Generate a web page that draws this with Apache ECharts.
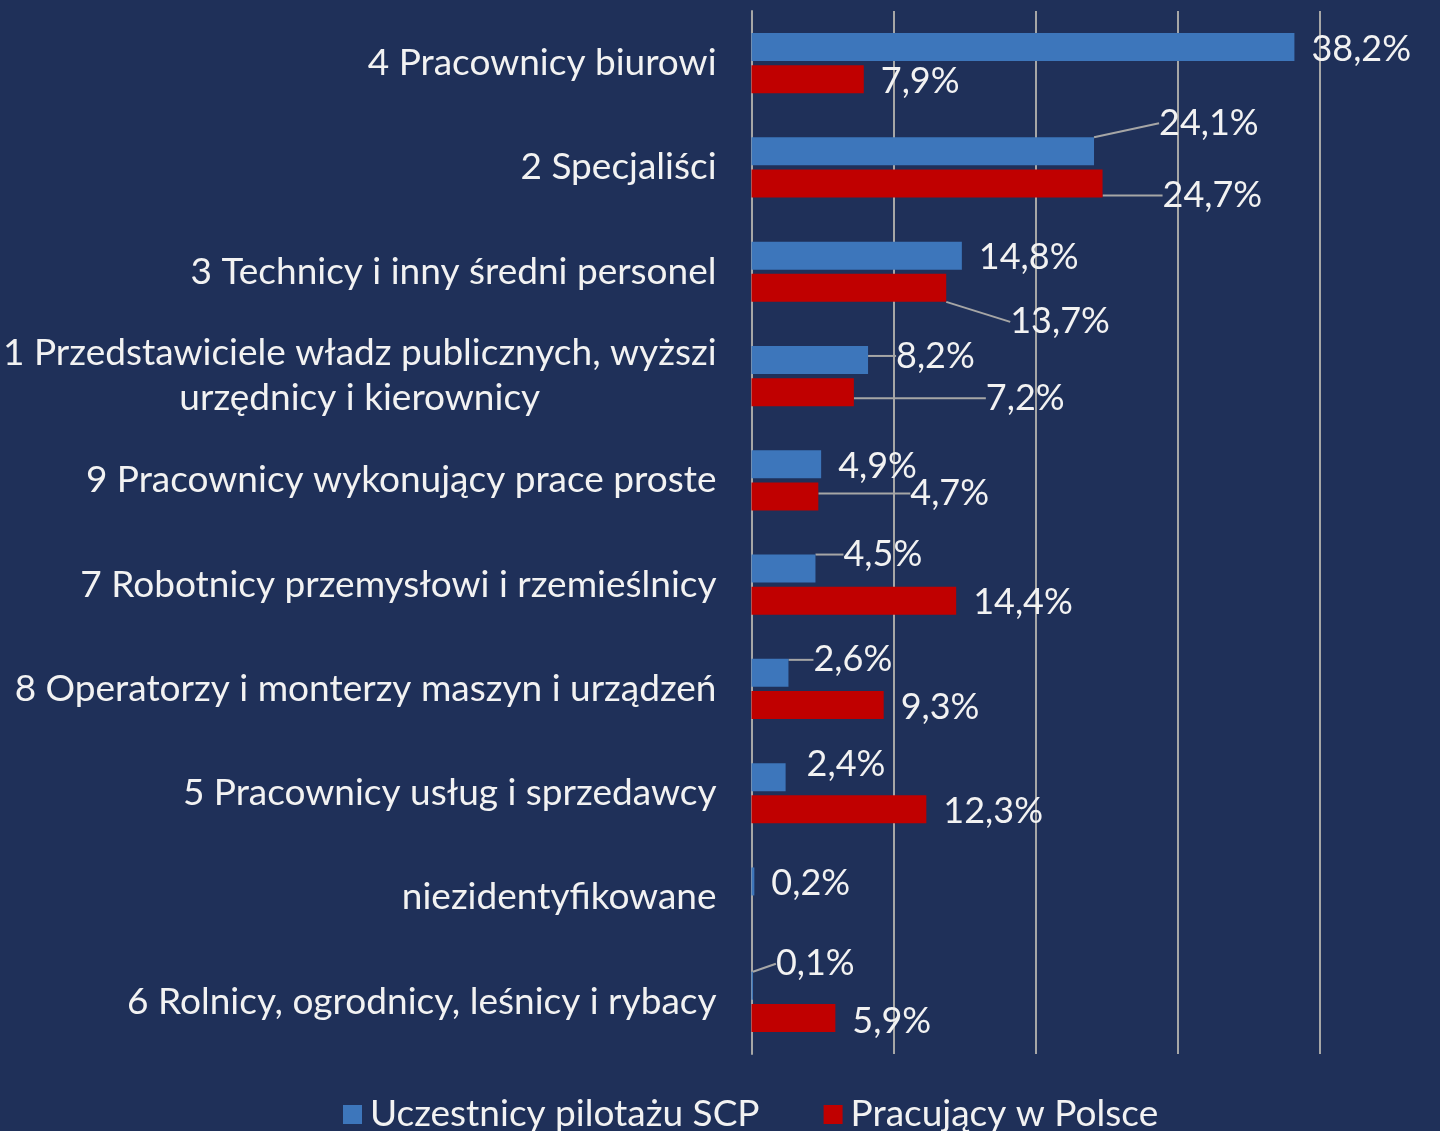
<!DOCTYPE html>
<html>
<head>
<meta charset="utf-8">
<script src="https://cdn.jsdelivr.net/npm/echarts@6/dist/echarts.min.js"></script>
<style>
  html, body { margin: 0; padding: 0; background: #1f3059; }
  #chart { width: 1440px; height: 1131px; }
</style>
</head>
<body>
<div id="chart"></div>
<script>
const categories = [
  "4 Pracownicy biurowi",
  "2 Specjaliści",
  "3 Technicy i inny średni personel",
  "1 Przedstawiciele władz publicznych, wyższi\nurzędnicy i kierownicy",
  "9 Pracownicy wykonujący prace proste",
  "7 Robotnicy przemysłowi i rzemieślnicy",
  "8 Operatorzy i monterzy maszyn i urządzeń",
  "5 Pracownicy usług i sprzedawcy",
  "niezidentyfikowane",
  "6 Rolnicy, ogrodnicy, leśnicy i rybacy"
];
const scpValues = [38.2, 24.1, 14.8, 8.2, 4.9, 4.5, 2.6, 2.4, 0.2, 0.1];
const polskaValues = [7.9, 24.7, 13.7, 7.2, 4.7, 14.4, 9.3, 12.3, null, 5.9];
const seriesNames = ["Uczestnicy pilotażu SCP", "Pracujący w Polsce"];

// label shifts (dx, dy) like the moved Excel labels, per series
const labelShift = [
  [[0, 2], [48, -28], [0, 2], [11, -4], [0, 2], [11, -14], [8, -13], [4, -13], [0, 2], [6, -22]],
  [[0, 2], [43, 12], [47, 34], [115, 6], [75, -3], [0, 2], [0, 2], [0, 2], [0, 2], [0, 3]]
];
const leaders = [
  [1, 3, 5, 6, 9],
  [1, 2, 3, 4]
];

const fmt = v => v.toFixed(1).replace('.', ',') + '%';
const textColor = '#f2f2f2';
const gridColor = '#a6a6a6';
const font = 'Lato, "Open Sans", sans-serif';

function makeData(values, s) {
  return values.map((v, i) => ({
    value: v,
    labelLine: { show: leaders[s].indexOf(i) >= 0 }
  }));
}

const chart = echarts.init(document.getElementById('chart'));
chart.setOption({
  backgroundColor: '#1f3059',
  textStyle: { fontFamily: font },
  animation: false,
  grid: { left: 751, right: 120, top: 11, bottom: 77, containLabel: false },
  legend: {
    bottom: -7,
    left: 338,
    itemWidth: 19,
    itemHeight: 19,
    itemGap: 64,
    icon: 'rect',
    textStyle: { color: textColor, fontSize: 37, fontFamily: font, padding: [0, 0, 0, 3] },
    data: seriesNames
  },
  xAxis: {
    type: 'value',
    min: 0,
    max: 40,
    interval: 10,
    axisLabel: { show: false },
    axisLine: { show: false },
    axisTick: { show: false },
    splitLine: { lineStyle: { color: gridColor, width: 2 } }
  },
  yAxis: {
    type: 'category',
    inverse: true,
    data: categories,
    axisTick: { show: false },
    axisLine: { show: true, lineStyle: { color: gridColor, width: 2 } },
    axisLabel: {
      margin: 35,
      color: textColor,
      fontSize: 37,
      fontFamily: font,
      formatter: v => v.split('\n').map(l => '{c|' + l + '}').join('\n'),
      rich: { c: { align: 'center', fontSize: 37, lineHeight: 45, color: textColor, fontFamily: font } }
    }
  },
  series: [0, 1].map(s => ({
    name: seriesNames[s],
    type: 'bar',
    data: makeData(s === 0 ? scpValues : polskaValues, s),
    barWidth: 28,
    barGap: '15%',
    itemStyle: { color: s === 0 ? '#3d76bb' : '#c00000' },
    label: {
      show: true,
      position: 'right',
      distance: 17,
      color: textColor,
      fontSize: 36,
      fontFamily: font,
      formatter: p => fmt(p.value)
    },
    labelLine: { show: true, lineStyle: { color: gridColor, width: 2 } },
    labelLayout: p => {
      const sh = labelShift[p.seriesIndex][p.dataIndex];
      return { dx: sh[0], dy: sh[1] };
    }
  }))
});
</script>
</body>
</html>
